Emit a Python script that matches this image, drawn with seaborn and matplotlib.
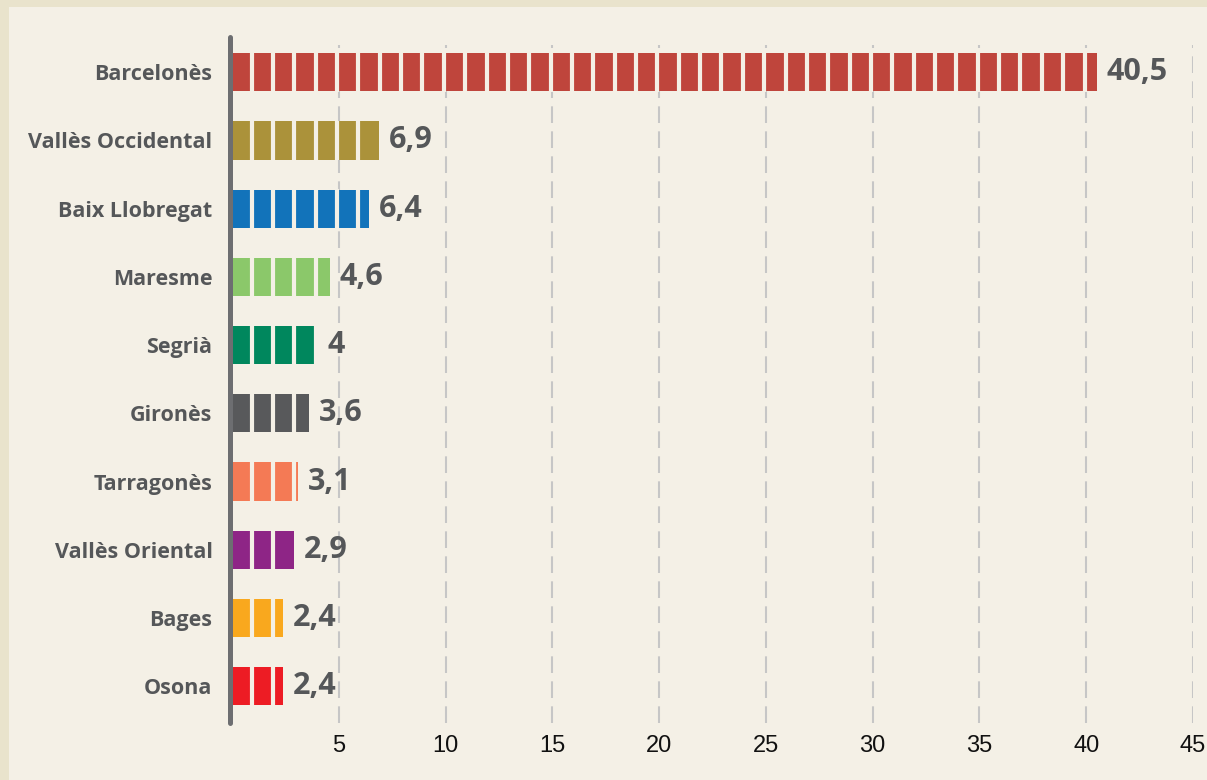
import matplotlib
matplotlib.use("Agg")
import matplotlib.pyplot as plt
import seaborn as sns
import pandas as pd
import numpy as np
from matplotlib.patches import Rectangle

categories = ["Barcelonès", "Vallès Occidental", "Baix Llobregat", "Maresme", "Segrià",
              "Gironès", "Tarragonès", "Vallès Oriental", "Bages", "Osona"]
values = [40.5, 6.9, 6.4, 4.6, 4.0, 3.6, 3.1, 2.9, 2.4, 2.4]
colors = ["#bf453c", "#ab923a", "#1273ba", "#8bc86a", "#00875d",
          "#58595b", "#f47a55", "#8e2586", "#f9a81e", "#ed1c24"]
xticks = [5, 10, 15, 20, 25, 30, 35, 40, 45]

BG = "#f4f0e6"
BORDER = "#e9e3cc"
TXT = "#555759"

sns.set_theme(style="white")
plt.rcParams["font.family"] = ["Open Sans", "DejaVu Sans"]

fig = plt.figure(figsize=(12.07, 7.80), dpi=100)
fig.patch.set_facecolor(BORDER)
# inner panel
fig.patches.append(Rectangle((9 / 1207, 0), 1 - 9 / 1207, 1 - 7 / 780,
                             transform=fig.transFigure, facecolor=BG,
                             edgecolor="none", zorder=-10))

ax = fig.add_axes([232 / 1207, 1 - 723 / 780, (1193 - 232) / 1207, (723 - 45) / 780])
ax.set_facecolor("none")

df = pd.DataFrame({"cat": categories, "val": values})
sns.barplot(data=df, y="cat", x="val", hue="cat", palette=colors, order=categories,
            hue_order=categories, orient="h", width=0.56, legend=False, ax=ax,
            saturation=1, zorder=2, linewidth=0, edgecolor="none")

ax.set_xlim(0, 45)
ax.set_ylim(9.54, -0.40)

# gaps between segments
for i, v in enumerate(values):
    ks = np.arange(1, int(np.floor(v)) + 1)
    ax.vlines(ks - 0.08, i - 0.29, i + 0.29, colors=BG, linewidth=3.0, zorder=3)

# dashed gridlines
for t in xticks:
    ax.axvline(t, color="#c6c6c6", linewidth=1.5, linestyle=(0, (8, 4)), zorder=1)

# left axis line
ax.plot([-0.1, -0.1], [-0.52, 9.54], color="#6d6e71", linewidth=3.6,
        solid_capstyle="round", clip_on=False, zorder=4)

for s in ax.spines.values():
    s.set_visible(False)

ax.set_xticks(xticks)
ax.set_xticklabels([str(t) for t in xticks], fontsize=17,
                   family=["Liberation Sans Narrow", "Liberation Sans", "DejaVu Sans"],
                   color="#111111")
ax.tick_params(axis="x", length=0, pad=9)
ax.tick_params(axis="y", length=0, pad=14)
for lbl in ax.get_yticklabels():
    lbl.set_fontsize(15.5)
    lbl.set_fontweight("bold")
    lbl.set_color(TXT)
ax.set_xlabel("")
ax.set_ylabel("")

for i, v in enumerate(values):
    txt = (f"{v:.1f}".replace(".", ",")) if v != int(v) else str(int(v))
    ax.annotate(txt, xy=(v, i), xytext=(7, 0), textcoords="offset points",
                va="center", ha="left", fontsize=22, fontweight="bold", color=TXT,
                zorder=5)

fig.savefig("out.png", dpi=100, facecolor=fig.get_facecolor())
